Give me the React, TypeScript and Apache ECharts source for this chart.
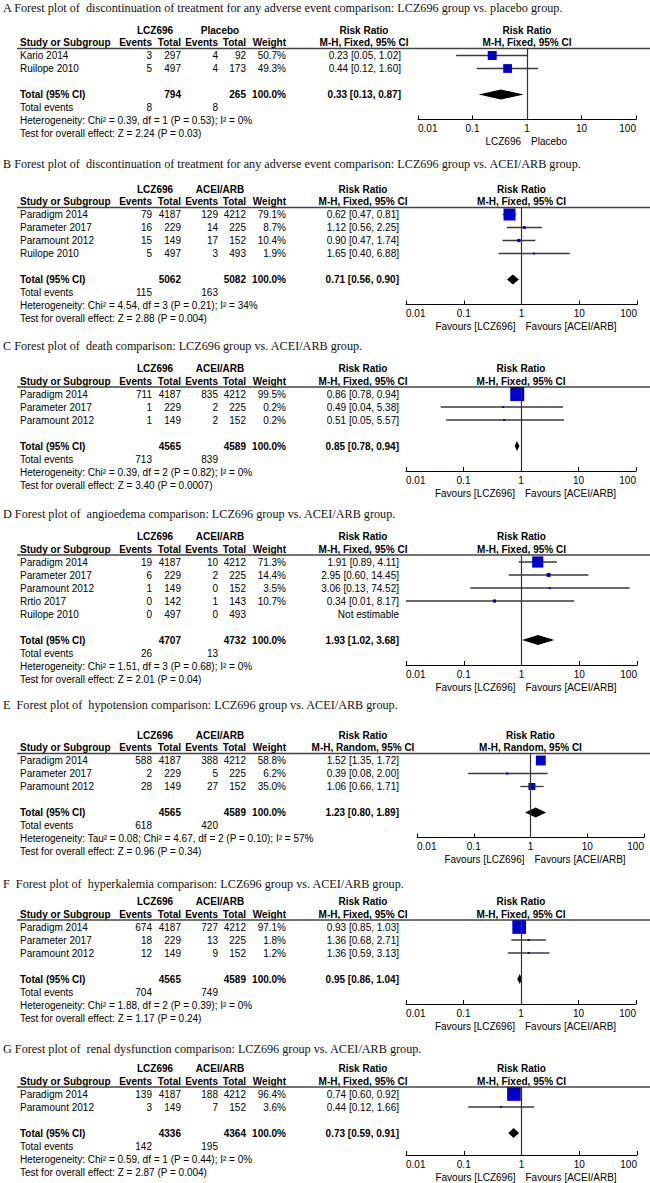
import React, { useEffect, useRef } from "react";
import * as echarts from "echarts";

// ---------------- DATA ----------------
const tickLabels = ["0.01", "0.1", "1", "10", "100"];
const refValue = 1;

const titles = [
  "A Forest plot of  discontinuation of treatment for any adverse event comparison: LCZ696 group vs. placebo group.",
  "B Forest plot of  discontinuation of treatment for any adverse event comparison: LCZ696 group vs. ACEI/ARB group.",
  "C Forest plot of  death comparison: LCZ696 group vs. ACEI/ARB group.",
  "D Forest plot of  angioedema comparison: LCZ696 group vs. ACEI/ARB group.",
  "E  Forest plot of  hypotension comparison: LCZ696 group vs. ACEI/ARB group.",
  "F  Forest plot of  hyperkalemia comparison: LCZ696 group vs. ACEI/ARB group.",
  "G Forest plot of  renal dysfunction comparison: LCZ696 group vs. ACEI/ARB group.",
];
const group1Names = ["LCZ696", "LCZ696", "LCZ696", "LCZ696", "LCZ696", "LCZ696", "LCZ696"];
const group2Names = ["Placebo", "ACEI/ARB", "ACEI/ARB", "ACEI/ARB", "ACEI/ARB", "ACEI/ARB", "ACEI/ARB"];
const methods = ["Fixed", "Fixed", "Fixed", "Fixed", "Random", "Fixed", "Fixed"];

// row: [study, events1, total1, events2, total2, weight %, RR, lower, upper]
const rowsA = [
  ["Kario 2014", 3, 297, 4, 92, 50.7, 0.23, 0.05, 1.02],
  ["Ruilope 2010", 5, 497, 4, 173, 49.3, 0.44, 0.12, 1.6],
];
const rowsB = [
  ["Paradigm 2014", 79, 4187, 129, 4212, 79.1, 0.62, 0.47, 0.81],
  ["Parameter 2017", 16, 229, 14, 225, 8.7, 1.12, 0.56, 2.25],
  ["Paramount 2012", 15, 149, 17, 152, 10.4, 0.9, 0.47, 1.74],
  ["Ruilope 2010", 5, 497, 3, 493, 1.9, 1.65, 0.4, 6.88],
];
const rowsC = [
  ["Paradigm 2014", 711, 4187, 835, 4212, 99.5, 0.86, 0.78, 0.94],
  ["Parameter 2017", 1, 229, 2, 225, 0.2, 0.49, 0.04, 5.38],
  ["Paramount 2012", 1, 149, 2, 152, 0.2, 0.51, 0.05, 5.57],
];
const rowsD = [
  ["Paradigm 2014", 19, 4187, 10, 4212, 71.3, 1.91, 0.89, 4.11],
  ["Parameter 2017", 6, 229, 2, 225, 14.4, 2.95, 0.6, 14.45],
  ["Paramount 2012", 1, 149, 0, 152, 3.5, 3.06, 0.13, 74.52],
  ["Rrtio 2017", 0, 142, 1, 143, 10.7, 0.34, 0.01, 8.17],
  ["Ruilope 2010", 0, 497, 0, 493, null, null, null, null],
];
const rowsE = [
  ["Paradigm 2014", 588, 4187, 388, 4212, 58.8, 1.52, 1.35, 1.72],
  ["Parameter 2017", 2, 229, 5, 225, 6.2, 0.39, 0.08, 2.0],
  ["Paramount 2012", 28, 149, 27, 152, 35.0, 1.06, 0.66, 1.71],
];
const rowsF = [
  ["Paradigm 2014", 674, 4187, 727, 4212, 97.1, 0.93, 0.85, 1.03],
  ["Parameter 2017", 18, 229, 13, 225, 1.8, 1.36, 0.68, 2.71],
  ["Paramount 2012", 12, 149, 9, 152, 1.2, 1.36, 0.59, 3.13],
];
const rowsG = [
  ["Paradigm 2014", 139, 4187, 188, 4212, 96.4, 0.74, 0.6, 0.92],
  ["Paramount 2012", 3, 149, 7, 152, 3.6, 0.44, 0.12, 1.66],
];

// total: [total1, total2, weight %, RR, lower, upper]
const totalA = [794, 265, 100.0, 0.33, 0.13, 0.87];
const totalB = [5062, 5082, 100.0, 0.71, 0.56, 0.9];
const totalC = [4565, 4589, 100.0, 0.85, 0.78, 0.94];
const totalD = [4707, 4732, 100.0, 1.93, 1.02, 3.68];
const totalE = [4565, 4589, 100.0, 1.23, 0.8, 1.89];
const totalF = [4565, 4589, 100.0, 0.95, 0.86, 1.04];
const totalG = [4336, 4364, 100.0, 0.73, 0.59, 0.91];

// total events: [group1, group2]
const eventsA = [8, 8];
const eventsB = [115, 163];
const eventsC = [713, 839];
const eventsD = [26, 13];
const eventsE = [618, 420];
const eventsF = [704, 749];
const eventsG = [142, 195];

const hetTexts = [
  "Heterogeneity: Chi² = 0.39, df = 1 (P = 0.53); I² = 0%",
  "Heterogeneity: Chi² = 4.54, df = 3 (P = 0.21); I² = 34%",
  "Heterogeneity: Chi² = 0.39, df = 2 (P = 0.82); I² = 0%",
  "Heterogeneity: Chi² = 1.51, df = 3 (P = 0.68); I² = 0%",
  "Heterogeneity: Tau² = 0.08; Chi² = 4.67, df = 2 (P = 0.10); I² = 57%",
  "Heterogeneity: Chi² = 1.88, df = 2 (P = 0.39); I² = 0%",
  "Heterogeneity: Chi² = 0.59, df = 1 (P = 0.44); I² = 0%",
];
const testTexts = [
  "Test for overall effect: Z = 2.24 (P = 0.03)",
  "Test for overall effect: Z = 2.88 (P = 0.004)",
  "Test for overall effect: Z = 3.40 (P = 0.0007)",
  "Test for overall effect: Z = 2.01 (P = 0.04)",
  "Test for overall effect: Z = 0.96 (P = 0.34)",
  "Test for overall effect: Z = 1.17 (P = 0.24)",
  "Test for overall effect: Z = 2.87 (P = 0.004)",
];
const favoursLeft = ["LCZ696", "Favours [LCZ696]", "Favours [LCZ696]", "Favours [LCZ696]", "Favours [LCZ696]", "Favours [LCZ696]", "Favours [LCZ696]"];
const favoursRight = ["Placebo", "Favours [ACEI/ARB]", "Favours [ACEI/ARB]", "Favours [ACEI/ARB]", "Favours [ACEI/ARB]", "Favours [ACEI/ARB]", "Favours [ACEI/ARB]"];

// ---------------- LAYOUT ----------------
const PAGE_W = 650;
const PAGE_H = 1183;
const ROW = 13;
const HEAD_FS = 10;
const cols = { name: 20, ev1: 152, n1: 181, ev2: 218, n2: 246, wt: 286, g1C: 155, g2C: 220 };
const panelLayout = [
  { titleY: 8, headY: 42.5, axL: 418, axR: 636, axisDy: -1, rrR: 401, rrC: 364 },
  { titleY: 164, headY: 201.5, axL: 406, axR: 637, axisDy: -1, rrR: 399, rrC: 363 },
  { titleY: 346, headY: 381, axL: 406, axR: 636, axisDy: -1, rrR: 399, rrC: 363 },
  { titleY: 514, headY: 549, axL: 406, axR: 637, axisDy: -1, rrR: 399, rrC: 363 },
  { titleY: 705, headY: 747.5, axL: 417, axR: 644, axisDy: -1, rrR: 399, rrC: 363 },
  { titleY: 884, headY: 914, axL: 406, axR: 636, axisDy: -1, rrR: 399, rrC: 363 },
  { titleY: 1049, headY: 1081, axL: 406, axR: 637, axisDy: -4, rrR: 399, rrC: 363 },
];

const SANS = "'Liberation Sans', Arial, Helvetica, sans-serif";
const SERIF = "'Liberation Serif', 'Times New Roman', Times, serif";

const panels = [
  { rows: rowsA, total: totalA, events: eventsA },
  { rows: rowsB, total: totalB, events: eventsB },
  { rows: rowsC, total: totalC, events: eventsC },
  { rows: rowsD, total: totalD, events: eventsD },
  { rows: rowsE, total: totalE, events: eventsE },
  { rows: rowsF, total: totalF, events: eventsF },
  { rows: rowsG, total: totalG, events: eventsG },
];

const fmtRR = (rr: any, lo: any, hi: any) =>
  rr == null ? "Not estimable" : `${rr.toFixed(2)} [${lo.toFixed(2)}, ${hi.toFixed(2)}]`;

function buildOption() {
  const graphics: any[] = [];
  const grids: any[] = [];
  const xAxes: any[] = [];
  const yAxes: any[] = [];
  const series: any[] = [];

  const txt = (x: number, y: number, text: any, o: any = {}) => {
    const align = o.align || "left";
    graphics.push({
      type: "text",
      x,
      y,
      silent: true,
      style: {
        text: String(text),
        fill: o.color || "#000",
        fontSize: o.size || 10,
        fontFamily: o.family || SANS,
        fontWeight: o.bold ? "bold" : "normal",
        align,
        textAlign: align,
        verticalAlign: "middle",
        textVerticalAlign: "middle",
      },
    });
  };
  const head = (x: number, y: number, text: string, align = "left") =>
    txt(x, y, text, { bold: true, align, size: HEAD_FS });

  panels.forEach((pd, p) => {
    const L = panelLayout[p];
    const H = L.headY;
    const n = pd.rows.length;
    const rowY = (i: number) => H + ROW + ROW * i;
    const lineY = H + 6;
    const hetY = rowY(n + 3);
    const axisY = hetY + L.axisDy;
    const plotC = (L.axL + L.axR) / 2;
    const h1 = H - 12.5;
    const mh = `M-H, ${methods[p]}, 95% CI`;

    // title
    txt(3, L.titleY, titles[p], { family: SERIF, size: 12.2, color: "#111" });
    // header row 1
    head(cols.g1C, h1, group1Names[p], "center");
    head(cols.g2C, h1, group2Names[p], "center");
    head(L.rrC, h1, "Risk Ratio", "center");
    head(plotC, h1, "Risk Ratio", "center");
    // header row 2
    head(cols.name, H, "Study or Subgroup");
    head(cols.ev1, H, "Events", "right");
    head(cols.n1, H, "Total", "right");
    head(cols.ev2, H, "Events", "right");
    head(cols.n2, H, "Total", "right");
    head(cols.wt, H, "Weight", "right");
    head(L.rrC, H, mh, "center");
    head(plotC, H, mh, "center");
    graphics.push({
      type: "line",
      silent: true,
      shape: { x1: 17, y1: lineY, x2: PAGE_W, y2: lineY },
      style: { stroke: "#444", lineWidth: 1.4 },
    });

    // study rows
    pd.rows.forEach((r: any, i: number) => {
      const y = rowY(i);
      txt(cols.name, y, r[0]);
      txt(cols.ev1, y, r[1], { align: "right" });
      txt(cols.n1, y, r[2], { align: "right" });
      txt(cols.ev2, y, r[3], { align: "right" });
      txt(cols.n2, y, r[4], { align: "right" });
      if (r[5] != null) txt(cols.wt, y, `${r[5].toFixed(1)}%`, { align: "right" });
      txt(L.rrR, y, fmtRR(r[6], r[7], r[8]), { align: "right" });
    });
    // total row
    const tY = rowY(n + 1);
    const t = pd.total;
    txt(cols.name, tY, "Total (95% CI)", { bold: true });
    txt(cols.n1, tY, t[0], { bold: true, align: "right" });
    txt(cols.n2, tY, t[1], { bold: true, align: "right" });
    txt(cols.wt, tY, `${t[2].toFixed(1)}%`, { bold: true, align: "right" });
    txt(L.rrR, tY, fmtRR(t[3], t[4], t[5]), { bold: true, align: "right" });
    // total events
    const eY = rowY(n + 2);
    txt(cols.name, eY, "Total events");
    txt(cols.ev1, eY, pd.events[0], { align: "right" });
    txt(cols.ev2, eY, pd.events[1], { align: "right" });
    txt(cols.name, hetY, hetTexts[p]);
    txt(cols.name, rowY(n + 4), testTexts[p]);
    // favours
    txt(plotC - 6, axisY + 22, favoursLeft[p], { align: "right" });
    txt(plotC + 4, axisY + 22, favoursRight[p], { align: "left" });

    // plot
    grids.push({
      left: L.axL,
      top: lineY,
      width: L.axR - L.axL,
      height: axisY - lineY,
      containLabel: false,
      outerBoundsMode: "none",
    });
    xAxes.push({
      type: "log",
      logBase: 10,
      gridIndex: p,
      min: 0.01,
      max: 100,
      splitNumber: 4,
      axisLine: { show: true, onZero: false, lineStyle: { color: "#000", width: 1 } },
      axisTick: { show: true, inside: true, length: 4, lineStyle: { color: "#000", width: 1 } },
      minorTick: { show: false },
      splitLine: { show: false },
      axisLabel: {
        show: true,
        margin: 4,
        fontSize: 10,
        fontFamily: SANS,
        color: "#000",
        alignMinLabel: "left",
        alignMaxLabel: "right",
        formatter: (v: number) => tickLabels[Math.round(Math.log10(v)) + 2] ?? "",
      },
    });
    yAxes.push({
      type: "value",
      gridIndex: p,
      inverse: true,
      show: false,
      min: (lineY - rowY(0)) / ROW,
      max: (axisY - rowY(0)) / ROW,
    });

    const studyData = pd.rows
      .map((r: any, i: number) => (r[6] == null ? null : [r[6], r[7], r[8], i, r[5]]))
      .filter((d: any) => d != null);

    series.push({
      type: "line",
      xAxisIndex: p,
      yAxisIndex: p,
      data: [],
      silent: true,
      markLine: {
        silent: true,
        symbol: ["none", "none"],
        label: { show: false },
        lineStyle: { color: "#333", width: 1.2, type: "solid" },
        emphasis: { disabled: true },
        data: [{ xAxis: refValue }],
      },
    });
    series.push({
      type: "custom",
      xAxisIndex: p,
      yAxisIndex: p,
      silent: true,
      clip: false,
      z: 3,
      data: studyData,
      renderItem: (params: any, api: any) => {
        const rr = api.value(0);
        const lo = api.value(1);
        const hi = api.value(2);
        const row = api.value(3);
        const w = api.value(4);
        const pLo = api.coord([lo, row]);
        const pHi = api.coord([hi, row]);
        const pC = api.coord([rr, row]);
        const s = Math.max(2, 0.67 * Math.pow(w, 0.66));
        return {
          type: "group",
          children: [
            {
              type: "line",
              shape: { x1: pLo[0], y1: pLo[1], x2: pHi[0], y2: pHi[1] },
              style: { stroke: "#3a3a3a", lineWidth: 1.3 },
            },
            {
              type: "rect",
              shape: { x: pC[0] - s / 2, y: pC[1] - s / 2, width: s, height: s },
              style: { fill: "#0000c8" },
            },
          ],
        };
      },
    });
    series.push({
      type: "custom",
      xAxisIndex: p,
      yAxisIndex: p,
      silent: true,
      clip: false,
      z: 3,
      data: [[pd.total[3], pd.total[4], pd.total[5], n + 1]],
      renderItem: (params: any, api: any) => {
        const row = api.value(3);
        const pC = api.coord([api.value(0), row]);
        const pLo = api.coord([api.value(1), row]);
        const pHi = api.coord([api.value(2), row]);
        return {
          type: "polygon",
          shape: {
            points: [
              [pLo[0], pC[1]],
              [pC[0], pC[1] - 5],
              [pHi[0], pC[1]],
              [pC[0], pC[1] + 5],
            ],
          },
          style: { fill: "#000" },
        };
      },
    });
  });

  return {
    animation: false,
    backgroundColor: "#fff",
    grid: grids,
    xAxis: xAxes,
    yAxis: yAxes,
    series,
    graphic: { elements: graphics },
  };
}

export default function App() {
  const ref = useRef<HTMLDivElement>(null);
  useEffect(() => {
    if (!ref.current) return;
    const chart = echarts.init(ref.current, undefined, { renderer: "svg" });
    chart.setOption(buildOption() as any);
    return () => chart.dispose();
  }, []);
  return (
    <div
      ref={ref}
      style={{ position: "absolute", left: 0, top: 0, width: PAGE_W, height: PAGE_H, background: "#fff" }}
    />
  );
}
